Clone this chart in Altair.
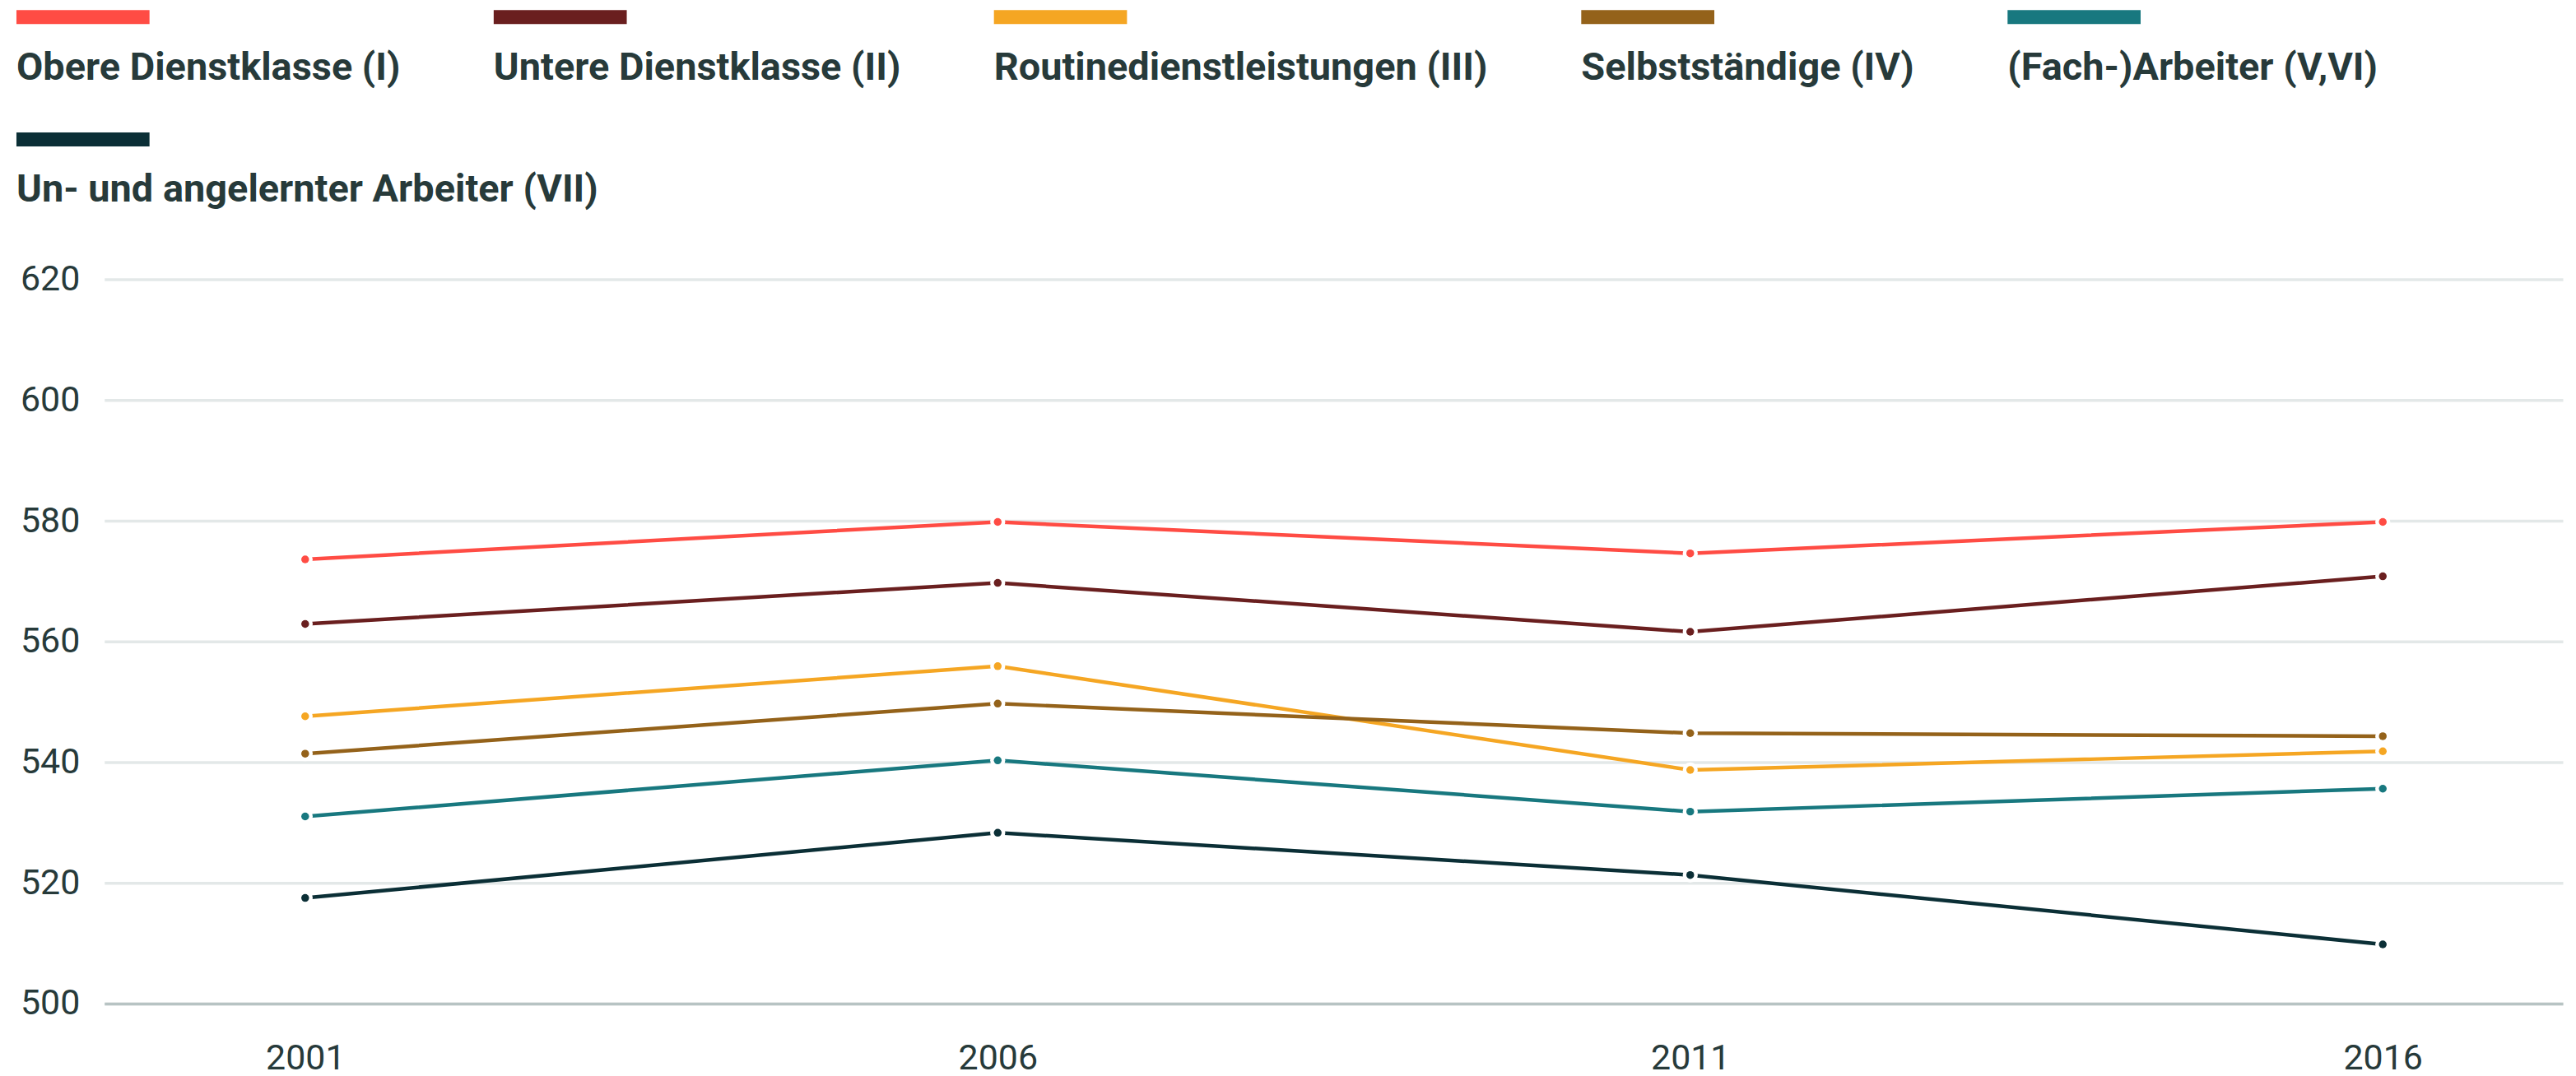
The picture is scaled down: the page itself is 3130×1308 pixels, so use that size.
import altair as alt
import pandas as pd

years = [2001, 2006, 2011, 2016]
classes = [
    "Obere Dienstklasse (I)",
    "Untere Dienstklasse (II)",
    "Routinedienstleistungen (III)",
    "Selbstständige (IV)",
    "(Fach-)Arbeiter (V,VI)",
    "Un- und angelernter Arbeiter (VII)",
]
obere = [573.6, 579.8, 574.6, 579.8]
untere = [562.9, 569.7, 561.6, 570.8]
routine = [547.6, 555.9, 538.7, 541.8]
selbst = [541.4, 549.7, 544.8, 544.3]
fach = [531.0, 540.3, 531.8, 535.6]
ungelernt = [517.5, 528.3, 521.3, 509.8]
colors = ["#ff4c44", "#6a1f1f", "#f5a623", "#94621a", "#18787f", "#0b2f36"]
y_ticks = [500, 520, 540, 560, 580, 600, 620]

series = [obere, untere, routine, selbst, fach, ungelernt]
rows = []
for name, col, vals in zip(classes, colors, series):
    for yr, v in zip(years, vals):
        rows.append({"Jahr": yr, "Klasse": name, "Farbe": col, "Wert": v})
df = pd.DataFrame(rows)

# legend is shown in two rows: first five classes, then the last one
row1_classes, row1_colors = classes[:5], colors[:5]
row2_classes, row2_colors = classes[5:], colors[5:]
df_row1 = df[df["Klasse"].isin(row1_classes)]
df_row2 = df[df["Klasse"].isin(row2_classes)]

text_color = "#273a3a"
FONT = "Roboto"

x = alt.X(
    "Jahr:Q",
    scale=alt.Scale(domain=[1999.55, 2017.3], nice=False, zero=False),
    axis=alt.Axis(
        values=years, format="d", title=None, grid=False, ticks=False,
        domain=True, domainColor="#b7c3c3", domainWidth=3.5,
        labelFontSize=43, labelColor=text_color, labelFont=FONT,
        labelPadding=46,
    ),
)
y = alt.Y(
    "Wert:Q",
    scale=alt.Scale(domain=[500, 620], nice=False, zero=False),
    axis=alt.Axis(
        values=y_ticks, title=None, grid=True, gridColor="#e3e8e8", gridWidth=3.5,
        ticks=False, domain=False, labelFontSize=43, labelColor=text_color,
        labelFont=FONT, labelPadding=30,
    ),
)

legend_style = dict(
    title=None, orient="none", legendX=-154,
    direction="horizontal", columns=5, gridAlign="none",
    columnPadding=66, rowPadding=56, padding=0,
    symbolType="M4.7,-14.1H37.1V-10.7H4.7Z", symbolSize=100,
    symbolStrokeWidth=0, symbolOpacity=1, labelOffset=0,
    labelFontSize=47, labelFontWeight="bold", labelColor=text_color,
    labelFont=FONT, labelLimit=2000,
)

lines = alt.Chart(df).mark_line(strokeWidth=4.5).encode(
    x=x, y=y,
    color=alt.Color("Farbe:N", scale=None),
    detail="Klasse:N",
)
halo = alt.Chart(df).mark_point(filled=True, size=336, opacity=1, color="white").encode(x=x, y=y)
dots1 = alt.Chart(df_row1).mark_point(filled=True, size=90, opacity=1).encode(
    x=x, y=y,
    color=alt.Color(
        "Klasse:N", scale=alt.Scale(domain=row1_classes, range=row1_colors),
        legend=alt.Legend(legendY=-281, **legend_style),
    ),
)
dots2 = alt.Chart(df_row2).mark_point(filled=True, size=90, opacity=1).encode(
    x=x, y=y,
    fill=alt.Fill(
        "Klasse:N", scale=alt.Scale(domain=row2_classes, range=row2_colors),
        legend=alt.Legend(legendY=-132, **legend_style),
    ),
)

chart = (
    alt.layer(lines, halo, dots1, dots2)
    .properties(
        width=2993, height=882,
        autosize=alt.AutoSizeParams(type="none"),
        padding={"left": 119, "top": 331, "right": 8, "bottom": 86},
    )
    .configure_view(stroke="transparent")
)

chart.save("out.html", embed_options={"renderer": "svg", "actions": False})
